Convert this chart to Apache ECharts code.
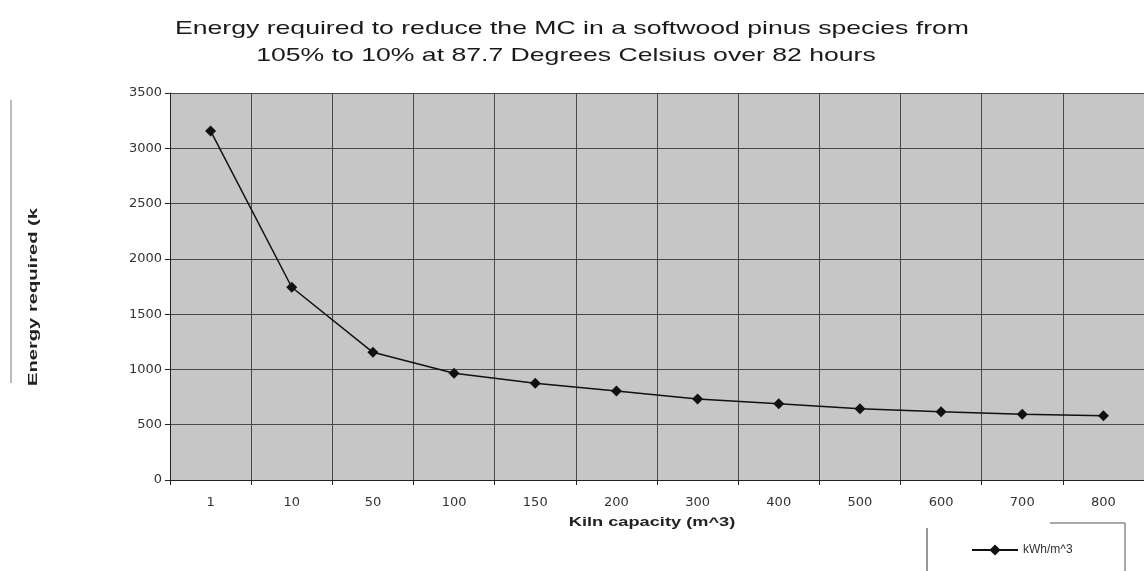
<!DOCTYPE html>
<html><head><meta charset="utf-8">
<script src="https://cdn.jsdelivr.net/npm/echarts@6/dist/echarts.min.js"></script>
<style>html,body{margin:0;padding:0;background:#fff}#c{width:1144px;height:571px}</style>
</head><body><div id="c"></div>
<script>
const categories = ['1','10','50','100','150','200','300','400','500','600','700','800'];
const energy = [3157, 1743, 1155, 965, 875, 805, 733, 690, 645, 618, 594, 582];
const yTicks = {min: 0, max: 3500, interval: 500};
const seriesName = 'kWh/m^3';
const titleLines = ['Energy required to reduce the MC in a softwood pinus species from', '105% to 10% at 87.7 Degrees Celsius over 82 hours'];
const xTitle = 'Kiln capacity (m^3)';
const yTitle = 'Energy required (k';

const chart = echarts.init(document.getElementById('c'), null, {renderer: 'canvas'});
const font = 'Liberation Sans, Arial, sans-serif';
const wide = 'DejaVu Sans, sans-serif';
chart.setOption({
  backgroundColor: '#fff',
  animation: false,
  grid: {left: 170, top: 93, right: -14, bottom: 91, show: true, backgroundColor: '#c6c6c6', borderWidth: 0},
  legend: {
    data: [seriesName], left: 966, top: 539, itemWidth: 46, itemHeight: 14, itemGap: 6,
    textStyle: {fontFamily: font, fontSize: 12, color: '#333'}
  },
  xAxis: {
    type: 'category', data: categories, boundaryGap: true,
    axisLine: {lineStyle: {color: '#222', width: 1}},
    axisTick: {show: true, length: 5, lineStyle: {color: '#222'}},
    axisLabel: {fontFamily: wide, fontSize: 13, color: '#333', margin: 16},
    splitLine: {show: true, lineStyle: {color: '#4a4a4a', width: 1}}
  },
  yAxis: {
    type: 'value', min: yTicks.min, max: yTicks.max, interval: yTicks.interval,
    axisLine: {show: true, lineStyle: {color: '#222', width: 1}},
    axisTick: {show: true, length: 5, lineStyle: {color: '#222'}},
    axisLabel: {fontFamily: wide, fontSize: 13, color: '#333', margin: 8, formatter: v => String(v)},
    splitLine: {show: true, lineStyle: {color: '#4a4a4a', width: 1}}
  },
  series: [{
    name: seriesName, type: 'line', data: energy,
    symbol: 'diamond', symbolSize: 11, showAllSymbol: true,
    lineStyle: {color: '#111', width: 1.5}, itemStyle: {color: '#111'}
  }],
  graphic: [
    {type: 'text', x: 572, y: 29, scaleX: 1.4, style: {text: titleLines[0], fontFamily: font, fontSize: 19, fill: '#1a1a1a', textAlign: 'center', textVerticalAlign: 'middle'}},
    {type: 'text', x: 566, y: 56, scaleX: 1.4, style: {text: titleLines[1], fontFamily: font, fontSize: 19, fill: '#1a1a1a', textAlign: 'center', textVerticalAlign: 'middle'}},
    {type: 'text', x: 652, y: 522, scaleX: 1.4, style: {text: xTitle, fontFamily: font, fontSize: 13, fontWeight: 'bold', fill: '#222', textAlign: 'center', textVerticalAlign: 'middle'}},
    {type: 'text', x: 33, y: 297, rotation: Math.PI / 2, scaleX: 1.55, style: {text: yTitle, fontFamily: font, fontSize: 13, fontWeight: 'bold', fill: '#222', textAlign: 'center', textVerticalAlign: 'middle'}},
    {type: 'line', shape: {x1: 11, y1: 100, x2: 11, y2: 383}, style: {stroke: '#777', lineWidth: 1}},
    {type: 'polyline', shape: {points: [[927, 571], [927, 528]]}, style: {stroke: '#333', lineWidth: 1, fill: null}},
    {type: 'polyline', shape: {points: [[1050, 523], [1125, 523], [1125, 571]]}, style: {stroke: '#555', lineWidth: 1, fill: null}}
  ]
});
</script></body></html>
